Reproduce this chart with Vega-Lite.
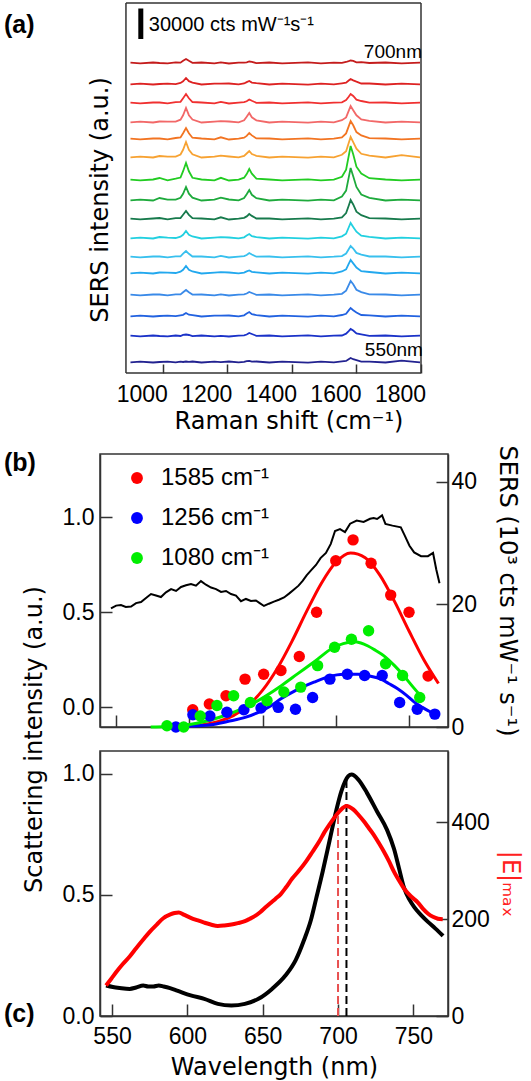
{
"$schema": "https://vega.github.io/schema/vega-lite/v6.json",
"padding": {"left": 3, "top": 2, "right": 8, "bottom": 0},
"background": "white",
"config": {
  "view": {"stroke": "#333333", "strokeWidth": 1.5},
  "axis": {"grid": false, "domainColor": "#333333", "domainWidth": 1.5, "tickColor": "#333333", "tickWidth": 1.5, "tickSize": -12, "labelPadding": 18, "labelFont": "Liberation Sans", "labelFontSize": 23, "labelColor": "#000000", "titleFont": "DejaVu Sans", "titleFontSize": 24, "titleFontWeight": "normal", "titleColor": "#000000", "labelFlush": false, "labelOverlap": false}
},
"resolve": {"scale": {"color": "independent"}, "legend": {"color": "independent"}},
"spacing": 10,
"vconcat": [
{
  "width": 321, "height": 370,
  "view": {"stroke": null},
  "layer": [
    {
      "data": {"values": [
{"nm":"700","x":900,"y":310.3},{"nm":"700","x":930,"y":309.6},{"nm":"700","x":970,"y":310.5},{"nm":"700","x":990,"y":310.0},{"nm":"700","x":1015,"y":309.7},{"nm":"700","x":1040,"y":310.6},{"nm":"700","x":1055,"y":310.4},{"nm":"700","x":1063,"y":312.3},{"nm":"700","x":1072,"y":314.0},{"nm":"700","x":1081,"y":312.2},{"nm":"700","x":1092,"y":310.2},{"nm":"700","x":1120,"y":310.5},{"nm":"700","x":1160,"y":309.7},{"nm":"700","x":1180,"y":310.7},{"nm":"700","x":1205,"y":309.5},{"nm":"700","x":1235,"y":310.4},{"nm":"700","x":1252,"y":310.4},{"nm":"700","x":1260,"y":310.6},{"nm":"700","x":1268,"y":311.5},{"nm":"700","x":1276,"y":311.1},{"nm":"700","x":1290,"y":309.9},{"nm":"700","x":1330,"y":310.5},{"nm":"700","x":1370,"y":309.6},{"nm":"700","x":1410,"y":310.2},{"nm":"700","x":1450,"y":310.6},{"nm":"700","x":1490,"y":309.7},{"nm":"700","x":1530,"y":310.3},{"nm":"700","x":1555,"y":310.1},{"nm":"700","x":1568,"y":311.0},{"nm":"700","x":1576,"y":311.8},{"nm":"700","x":1582,"y":312.5},{"nm":"700","x":1590,"y":312.1},{"nm":"700","x":1600,"y":310.7},{"nm":"700","x":1615,"y":310.9},{"nm":"700","x":1640,"y":310.0},{"nm":"700","x":1690,"y":310.5},{"nm":"700","x":1740,"y":309.6},{"nm":"700","x":1797,"y":310.3},
{"nm":"690","x":900,"y":288.7},{"nm":"690","x":930,"y":289.4},{"nm":"690","x":970,"y":288.5},{"nm":"690","x":990,"y":289.0},{"nm":"690","x":1015,"y":289.3},{"nm":"690","x":1040,"y":288.9},{"nm":"690","x":1055,"y":290.1},{"nm":"690","x":1063,"y":291.7},{"nm":"690","x":1072,"y":295.0},{"nm":"690","x":1081,"y":291.8},{"nm":"690","x":1092,"y":290.3},{"nm":"690","x":1120,"y":288.5},{"nm":"690","x":1160,"y":289.3},{"nm":"690","x":1180,"y":289.3},{"nm":"690","x":1205,"y":289.5},{"nm":"690","x":1235,"y":288.6},{"nm":"690","x":1252,"y":289.5},{"nm":"690","x":1260,"y":290.9},{"nm":"690","x":1268,"y":292.0},{"nm":"690","x":1276,"y":290.4},{"nm":"690","x":1290,"y":289.8},{"nm":"690","x":1330,"y":288.5},{"nm":"690","x":1370,"y":289.4},{"nm":"690","x":1410,"y":288.8},{"nm":"690","x":1450,"y":288.4},{"nm":"690","x":1490,"y":289.3},{"nm":"690","x":1530,"y":288.7},{"nm":"690","x":1555,"y":289.7},{"nm":"690","x":1568,"y":290.3},{"nm":"690","x":1576,"y":292.5},{"nm":"690","x":1582,"y":294.0},{"nm":"690","x":1590,"y":292.6},{"nm":"690","x":1600,"y":291.3},{"nm":"690","x":1615,"y":289.5},{"nm":"690","x":1640,"y":289.5},{"nm":"690","x":1690,"y":288.5},{"nm":"690","x":1740,"y":289.4},{"nm":"690","x":1797,"y":288.7},
{"nm":"680","x":900,"y":270.3},{"nm":"680","x":930,"y":269.6},{"nm":"680","x":970,"y":270.5},{"nm":"680","x":990,"y":270.5},{"nm":"680","x":1015,"y":269.7},{"nm":"680","x":1040,"y":270.9},{"nm":"680","x":1055,"y":271.2},{"nm":"680","x":1063,"y":274.8},{"nm":"680","x":1072,"y":279.0},{"nm":"680","x":1081,"y":274.7},{"nm":"680","x":1092,"y":271.0},{"nm":"680","x":1120,"y":270.5},{"nm":"680","x":1160,"y":269.7},{"nm":"680","x":1180,"y":271.2},{"nm":"680","x":1205,"y":269.5},{"nm":"680","x":1235,"y":270.4},{"nm":"680","x":1252,"y":270.8},{"nm":"680","x":1260,"y":271.7},{"nm":"680","x":1268,"y":273.5},{"nm":"680","x":1276,"y":272.2},{"nm":"680","x":1290,"y":270.2},{"nm":"680","x":1330,"y":270.5},{"nm":"680","x":1370,"y":269.6},{"nm":"680","x":1410,"y":270.2},{"nm":"680","x":1450,"y":270.6},{"nm":"680","x":1490,"y":269.7},{"nm":"680","x":1530,"y":270.3},{"nm":"680","x":1555,"y":270.7},{"nm":"680","x":1568,"y":272.9},{"nm":"680","x":1576,"y":276.3},{"nm":"680","x":1582,"y":279.0},{"nm":"680","x":1590,"y":277.0},{"nm":"680","x":1600,"y":273.3},{"nm":"680","x":1615,"y":272.0},{"nm":"680","x":1640,"y":270.3},{"nm":"680","x":1690,"y":270.5},{"nm":"680","x":1740,"y":269.6},{"nm":"680","x":1797,"y":270.3},
{"nm":"670","x":900,"y":250.7},{"nm":"670","x":930,"y":251.4},{"nm":"670","x":970,"y":250.5},{"nm":"670","x":990,"y":251.5},{"nm":"670","x":1015,"y":251.3},{"nm":"670","x":1040,"y":251.3},{"nm":"670","x":1055,"y":253.3},{"nm":"670","x":1063,"y":257.7},{"nm":"670","x":1072,"y":265.0},{"nm":"670","x":1081,"y":257.8},{"nm":"670","x":1092,"y":253.5},{"nm":"670","x":1120,"y":250.5},{"nm":"670","x":1160,"y":251.3},{"nm":"670","x":1180,"y":251.8},{"nm":"670","x":1205,"y":251.5},{"nm":"670","x":1235,"y":250.6},{"nm":"670","x":1252,"y":252.7},{"nm":"670","x":1260,"y":256.2},{"nm":"670","x":1268,"y":260.0},{"nm":"670","x":1276,"y":255.7},{"nm":"670","x":1290,"y":252.7},{"nm":"670","x":1330,"y":250.5},{"nm":"670","x":1370,"y":251.4},{"nm":"670","x":1410,"y":250.8},{"nm":"670","x":1450,"y":250.4},{"nm":"670","x":1490,"y":251.3},{"nm":"670","x":1530,"y":250.7},{"nm":"670","x":1555,"y":252.8},{"nm":"670","x":1568,"y":255.6},{"nm":"670","x":1576,"y":262.2},{"nm":"670","x":1582,"y":267.0},{"nm":"670","x":1590,"y":262.8},{"nm":"670","x":1600,"y":257.7},{"nm":"670","x":1615,"y":253.5},{"nm":"670","x":1640,"y":252.2},{"nm":"670","x":1690,"y":250.5},{"nm":"670","x":1740,"y":251.4},{"nm":"670","x":1797,"y":250.7},
{"nm":"660","x":900,"y":234.3},{"nm":"660","x":930,"y":233.6},{"nm":"660","x":970,"y":234.5},{"nm":"660","x":990,"y":234.5},{"nm":"660","x":1015,"y":233.7},{"nm":"660","x":1040,"y":235.0},{"nm":"660","x":1055,"y":235.5},{"nm":"660","x":1063,"y":239.8},{"nm":"660","x":1072,"y":245.0},{"nm":"660","x":1081,"y":239.7},{"nm":"660","x":1092,"y":235.3},{"nm":"660","x":1120,"y":234.5},{"nm":"660","x":1160,"y":233.7},{"nm":"660","x":1180,"y":235.7},{"nm":"660","x":1205,"y":233.5},{"nm":"660","x":1235,"y":234.4},{"nm":"660","x":1252,"y":235.3},{"nm":"660","x":1260,"y":237.1},{"nm":"660","x":1268,"y":240.0},{"nm":"660","x":1276,"y":237.6},{"nm":"660","x":1290,"y":234.6},{"nm":"660","x":1330,"y":234.5},{"nm":"660","x":1370,"y":233.6},{"nm":"660","x":1410,"y":234.2},{"nm":"660","x":1450,"y":234.6},{"nm":"660","x":1490,"y":233.7},{"nm":"660","x":1530,"y":234.3},{"nm":"660","x":1555,"y":235.6},{"nm":"660","x":1568,"y":239.6},{"nm":"660","x":1576,"y":246.6},{"nm":"660","x":1582,"y":252.0},{"nm":"660","x":1590,"y":247.7},{"nm":"660","x":1600,"y":240.9},{"nm":"660","x":1615,"y":237.6},{"nm":"660","x":1640,"y":234.9},{"nm":"660","x":1690,"y":234.5},{"nm":"660","x":1740,"y":233.6},{"nm":"660","x":1797,"y":234.3},
{"nm":"650","x":900,"y":215.7},{"nm":"650","x":930,"y":216.4},{"nm":"650","x":970,"y":215.5},{"nm":"650","x":990,"y":217.0},{"nm":"650","x":1015,"y":216.3},{"nm":"650","x":1040,"y":216.4},{"nm":"650","x":1055,"y":218.5},{"nm":"650","x":1063,"y":223.2},{"nm":"650","x":1072,"y":231.0},{"nm":"650","x":1081,"y":223.3},{"nm":"650","x":1092,"y":218.7},{"nm":"650","x":1120,"y":215.5},{"nm":"650","x":1160,"y":216.3},{"nm":"650","x":1180,"y":217.3},{"nm":"650","x":1205,"y":216.5},{"nm":"650","x":1235,"y":215.6},{"nm":"650","x":1252,"y":217.1},{"nm":"650","x":1260,"y":219.5},{"nm":"650","x":1268,"y":222.0},{"nm":"650","x":1276,"y":219.0},{"nm":"650","x":1290,"y":217.2},{"nm":"650","x":1330,"y":215.5},{"nm":"650","x":1370,"y":216.4},{"nm":"650","x":1410,"y":215.8},{"nm":"650","x":1450,"y":215.4},{"nm":"650","x":1490,"y":216.3},{"nm":"650","x":1530,"y":215.7},{"nm":"650","x":1555,"y":218.2},{"nm":"650","x":1568,"y":221.8},{"nm":"650","x":1576,"y":230.0},{"nm":"650","x":1582,"y":236.0},{"nm":"650","x":1590,"y":230.8},{"nm":"650","x":1600,"y":224.3},{"nm":"650","x":1615,"y":219.2},{"nm":"650","x":1640,"y":217.4},{"nm":"650","x":1690,"y":215.5},{"nm":"650","x":1740,"y":217.9},{"nm":"650","x":1797,"y":215.7},
{"nm":"640","x":900,"y":193.3},{"nm":"640","x":930,"y":192.6},{"nm":"640","x":970,"y":193.5},{"nm":"640","x":990,"y":195.0},{"nm":"640","x":1015,"y":192.7},{"nm":"640","x":1040,"y":194.3},{"nm":"640","x":1055,"y":195.4},{"nm":"640","x":1063,"y":201.8},{"nm":"640","x":1072,"y":210.0},{"nm":"640","x":1081,"y":201.7},{"nm":"640","x":1092,"y":195.2},{"nm":"640","x":1120,"y":193.5},{"nm":"640","x":1160,"y":192.7},{"nm":"640","x":1180,"y":195.2},{"nm":"640","x":1205,"y":192.5},{"nm":"640","x":1235,"y":193.4},{"nm":"640","x":1252,"y":195.3},{"nm":"640","x":1260,"y":198.9},{"nm":"640","x":1268,"y":204.0},{"nm":"640","x":1276,"y":199.4},{"nm":"640","x":1290,"y":194.4},{"nm":"640","x":1330,"y":193.5},{"nm":"640","x":1370,"y":192.6},{"nm":"640","x":1410,"y":193.2},{"nm":"640","x":1450,"y":193.6},{"nm":"640","x":1490,"y":192.7},{"nm":"640","x":1530,"y":193.3},{"nm":"640","x":1555,"y":196.2},{"nm":"640","x":1568,"y":203.4},{"nm":"640","x":1576,"y":216.8},{"nm":"640","x":1582,"y":227.0},{"nm":"640","x":1590,"y":218.7},{"nm":"640","x":1600,"y":206.3},{"nm":"640","x":1615,"y":199.5},{"nm":"640","x":1640,"y":194.8},{"nm":"640","x":1690,"y":193.5},{"nm":"640","x":1740,"y":192.6},{"nm":"640","x":1797,"y":193.3},
{"nm":"630","x":900,"y":172.7},{"nm":"630","x":930,"y":173.4},{"nm":"630","x":970,"y":172.5},{"nm":"630","x":990,"y":175.0},{"nm":"630","x":1015,"y":173.3},{"nm":"630","x":1040,"y":173.3},{"nm":"630","x":1055,"y":175.2},{"nm":"630","x":1063,"y":179.2},{"nm":"630","x":1072,"y":186.0},{"nm":"630","x":1081,"y":179.3},{"nm":"630","x":1092,"y":175.4},{"nm":"630","x":1120,"y":172.5},{"nm":"630","x":1160,"y":173.3},{"nm":"630","x":1180,"y":175.3},{"nm":"630","x":1205,"y":173.5},{"nm":"630","x":1235,"y":172.6},{"nm":"630","x":1252,"y":174.9},{"nm":"630","x":1260,"y":178.7},{"nm":"630","x":1268,"y":183.0},{"nm":"630","x":1276,"y":178.2},{"nm":"630","x":1290,"y":174.8},{"nm":"630","x":1330,"y":172.5},{"nm":"630","x":1370,"y":173.4},{"nm":"630","x":1410,"y":172.8},{"nm":"630","x":1450,"y":172.4},{"nm":"630","x":1490,"y":173.3},{"nm":"630","x":1530,"y":172.7},{"nm":"630","x":1555,"y":176.4},{"nm":"630","x":1568,"y":182.4},{"nm":"630","x":1576,"y":195.4},{"nm":"630","x":1582,"y":205.0},{"nm":"630","x":1590,"y":196.8},{"nm":"630","x":1600,"y":186.1},{"nm":"630","x":1615,"y":178.4},{"nm":"630","x":1640,"y":175.1},{"nm":"630","x":1690,"y":172.5},{"nm":"630","x":1740,"y":173.4},{"nm":"630","x":1797,"y":172.7},
{"nm":"620","x":900,"y":154.3},{"nm":"620","x":930,"y":153.6},{"nm":"620","x":970,"y":154.5},{"nm":"620","x":990,"y":155.0},{"nm":"620","x":1015,"y":153.7},{"nm":"620","x":1040,"y":154.8},{"nm":"620","x":1055,"y":155.0},{"nm":"620","x":1063,"y":158.3},{"nm":"620","x":1072,"y":162.0},{"nm":"620","x":1081,"y":158.2},{"nm":"620","x":1092,"y":154.8},{"nm":"620","x":1120,"y":154.5},{"nm":"620","x":1160,"y":153.7},{"nm":"620","x":1180,"y":155.7},{"nm":"620","x":1205,"y":153.5},{"nm":"620","x":1235,"y":154.4},{"nm":"620","x":1252,"y":155.1},{"nm":"620","x":1260,"y":156.6},{"nm":"620","x":1268,"y":159.0},{"nm":"620","x":1276,"y":157.1},{"nm":"620","x":1290,"y":154.5},{"nm":"620","x":1330,"y":154.5},{"nm":"620","x":1370,"y":153.6},{"nm":"620","x":1410,"y":154.2},{"nm":"620","x":1450,"y":154.6},{"nm":"620","x":1490,"y":153.7},{"nm":"620","x":1530,"y":154.3},{"nm":"620","x":1555,"y":155.7},{"nm":"620","x":1568,"y":159.9},{"nm":"620","x":1576,"y":167.3},{"nm":"620","x":1582,"y":173.0},{"nm":"620","x":1590,"y":168.5},{"nm":"620","x":1600,"y":161.3},{"nm":"620","x":1615,"y":157.8},{"nm":"620","x":1640,"y":154.9},{"nm":"620","x":1690,"y":154.5},{"nm":"620","x":1740,"y":153.6},{"nm":"620","x":1797,"y":154.3},
{"nm":"610","x":900,"y":134.7},{"nm":"610","x":930,"y":135.4},{"nm":"610","x":970,"y":134.5},{"nm":"610","x":990,"y":136.0},{"nm":"610","x":1015,"y":135.3},{"nm":"610","x":1040,"y":135.0},{"nm":"610","x":1055,"y":136.3},{"nm":"610","x":1063,"y":138.2},{"nm":"610","x":1072,"y":142.0},{"nm":"610","x":1081,"y":138.3},{"nm":"610","x":1092,"y":136.5},{"nm":"610","x":1120,"y":134.5},{"nm":"610","x":1160,"y":135.3},{"nm":"610","x":1180,"y":135.8},{"nm":"610","x":1205,"y":135.5},{"nm":"610","x":1235,"y":134.6},{"nm":"610","x":1252,"y":135.7},{"nm":"610","x":1260,"y":137.4},{"nm":"610","x":1268,"y":139.0},{"nm":"610","x":1276,"y":136.9},{"nm":"610","x":1290,"y":135.9},{"nm":"610","x":1330,"y":134.5},{"nm":"610","x":1370,"y":135.4},{"nm":"610","x":1410,"y":134.8},{"nm":"610","x":1450,"y":134.4},{"nm":"610","x":1490,"y":135.3},{"nm":"610","x":1530,"y":134.7},{"nm":"610","x":1555,"y":136.7},{"nm":"610","x":1568,"y":139.3},{"nm":"610","x":1576,"y":145.5},{"nm":"610","x":1582,"y":150.0},{"nm":"610","x":1590,"y":146.1},{"nm":"610","x":1600,"y":141.3},{"nm":"610","x":1615,"y":137.3},{"nm":"610","x":1640,"y":136.1},{"nm":"610","x":1690,"y":134.5},{"nm":"610","x":1740,"y":135.4},{"nm":"610","x":1797,"y":134.7},
{"nm":"600","x":900,"y":116.3},{"nm":"600","x":930,"y":115.6},{"nm":"600","x":970,"y":116.5},{"nm":"600","x":990,"y":116.5},{"nm":"600","x":1015,"y":115.7},{"nm":"600","x":1040,"y":116.7},{"nm":"600","x":1055,"y":116.7},{"nm":"600","x":1063,"y":119.3},{"nm":"600","x":1072,"y":122.0},{"nm":"600","x":1081,"y":119.2},{"nm":"600","x":1092,"y":116.5},{"nm":"600","x":1120,"y":116.5},{"nm":"600","x":1160,"y":115.7},{"nm":"600","x":1180,"y":117.2},{"nm":"600","x":1205,"y":115.5},{"nm":"600","x":1235,"y":116.4},{"nm":"600","x":1252,"y":116.9},{"nm":"600","x":1260,"y":118.0},{"nm":"600","x":1268,"y":120.0},{"nm":"600","x":1276,"y":118.5},{"nm":"600","x":1290,"y":116.3},{"nm":"600","x":1330,"y":116.5},{"nm":"600","x":1370,"y":115.6},{"nm":"600","x":1410,"y":116.2},{"nm":"600","x":1450,"y":116.6},{"nm":"600","x":1490,"y":115.7},{"nm":"600","x":1530,"y":116.3},{"nm":"600","x":1555,"y":116.9},{"nm":"600","x":1568,"y":119.5},{"nm":"600","x":1576,"y":123.7},{"nm":"600","x":1582,"y":127.0},{"nm":"600","x":1590,"y":124.5},{"nm":"600","x":1600,"y":120.1},{"nm":"600","x":1615,"y":118.4},{"nm":"600","x":1640,"y":116.5},{"nm":"600","x":1690,"y":116.5},{"nm":"600","x":1740,"y":115.6},{"nm":"600","x":1797,"y":116.3},
{"nm":"590","x":900,"y":99.7},{"nm":"590","x":930,"y":100.4},{"nm":"590","x":970,"y":99.5},{"nm":"590","x":990,"y":100.5},{"nm":"590","x":1015,"y":100.3},{"nm":"590","x":1040,"y":100.0},{"nm":"590","x":1055,"y":101.3},{"nm":"590","x":1063,"y":103.2},{"nm":"590","x":1072,"y":107.0},{"nm":"590","x":1081,"y":103.3},{"nm":"590","x":1092,"y":101.5},{"nm":"590","x":1120,"y":99.5},{"nm":"590","x":1160,"y":100.3},{"nm":"590","x":1180,"y":100.8},{"nm":"590","x":1205,"y":100.5},{"nm":"590","x":1235,"y":99.6},{"nm":"590","x":1252,"y":100.4},{"nm":"590","x":1260,"y":101.6},{"nm":"590","x":1268,"y":102.5},{"nm":"590","x":1276,"y":101.1},{"nm":"590","x":1290,"y":100.7},{"nm":"590","x":1330,"y":99.5},{"nm":"590","x":1370,"y":100.4},{"nm":"590","x":1410,"y":99.8},{"nm":"590","x":1450,"y":99.4},{"nm":"590","x":1490,"y":100.3},{"nm":"590","x":1530,"y":99.7},{"nm":"590","x":1555,"y":101.5},{"nm":"590","x":1568,"y":103.7},{"nm":"590","x":1576,"y":109.1},{"nm":"590","x":1582,"y":113.0},{"nm":"590","x":1590,"y":109.6},{"nm":"590","x":1600,"y":105.5},{"nm":"590","x":1615,"y":101.9},{"nm":"590","x":1640,"y":101.0},{"nm":"590","x":1690,"y":99.5},{"nm":"590","x":1740,"y":100.4},{"nm":"590","x":1797,"y":99.7},
{"nm":"580","x":900,"y":78.3},{"nm":"580","x":930,"y":77.6},{"nm":"580","x":970,"y":78.5},{"nm":"580","x":990,"y":78.5},{"nm":"580","x":1015,"y":77.7},{"nm":"580","x":1040,"y":78.7},{"nm":"580","x":1055,"y":78.6},{"nm":"580","x":1063,"y":80.8},{"nm":"580","x":1072,"y":83.0},{"nm":"580","x":1081,"y":80.7},{"nm":"580","x":1092,"y":78.4},{"nm":"580","x":1120,"y":78.5},{"nm":"580","x":1160,"y":77.7},{"nm":"580","x":1180,"y":78.7},{"nm":"580","x":1205,"y":77.5},{"nm":"580","x":1235,"y":78.4},{"nm":"580","x":1252,"y":78.7},{"nm":"580","x":1260,"y":79.5},{"nm":"580","x":1268,"y":81.0},{"nm":"580","x":1276,"y":80.0},{"nm":"580","x":1290,"y":78.2},{"nm":"580","x":1330,"y":78.5},{"nm":"580","x":1370,"y":77.6},{"nm":"580","x":1410,"y":78.2},{"nm":"580","x":1450,"y":78.6},{"nm":"580","x":1490,"y":77.7},{"nm":"580","x":1530,"y":78.3},{"nm":"580","x":1555,"y":79.2},{"nm":"580","x":1568,"y":82.4},{"nm":"580","x":1576,"y":87.8},{"nm":"580","x":1582,"y":92.0},{"nm":"580","x":1590,"y":88.7},{"nm":"580","x":1600,"y":83.3},{"nm":"580","x":1615,"y":80.9},{"nm":"580","x":1640,"y":78.6},{"nm":"580","x":1690,"y":78.5},{"nm":"580","x":1740,"y":77.6},{"nm":"580","x":1797,"y":78.3},
{"nm":"570","x":900,"y":56.7},{"nm":"570","x":930,"y":57.4},{"nm":"570","x":970,"y":56.5},{"nm":"570","x":990,"y":57.0},{"nm":"570","x":1015,"y":57.3},{"nm":"570","x":1040,"y":56.8},{"nm":"570","x":1055,"y":57.7},{"nm":"570","x":1063,"y":58.2},{"nm":"570","x":1072,"y":60.0},{"nm":"570","x":1081,"y":58.3},{"nm":"570","x":1092,"y":57.9},{"nm":"570","x":1120,"y":56.5},{"nm":"570","x":1160,"y":57.3},{"nm":"570","x":1180,"y":57.3},{"nm":"570","x":1205,"y":57.5},{"nm":"570","x":1235,"y":56.6},{"nm":"570","x":1252,"y":57.7},{"nm":"570","x":1260,"y":59.4},{"nm":"570","x":1268,"y":61.0},{"nm":"570","x":1276,"y":58.9},{"nm":"570","x":1290,"y":57.9},{"nm":"570","x":1330,"y":56.5},{"nm":"570","x":1370,"y":57.4},{"nm":"570","x":1410,"y":56.8},{"nm":"570","x":1450,"y":56.4},{"nm":"570","x":1490,"y":57.3},{"nm":"570","x":1530,"y":56.7},{"nm":"570","x":1555,"y":58.0},{"nm":"570","x":1568,"y":59.2},{"nm":"570","x":1576,"y":62.6},{"nm":"570","x":1582,"y":65.0},{"nm":"570","x":1590,"y":62.8},{"nm":"570","x":1600,"y":60.5},{"nm":"570","x":1615,"y":58.0},{"nm":"570","x":1640,"y":57.7},{"nm":"570","x":1690,"y":56.5},{"nm":"570","x":1740,"y":57.4},{"nm":"570","x":1797,"y":56.7},
{"nm":"560","x":900,"y":37.3},{"nm":"560","x":930,"y":36.6},{"nm":"560","x":970,"y":37.5},{"nm":"560","x":990,"y":37.0},{"nm":"560","x":1015,"y":36.7},{"nm":"560","x":1040,"y":37.5},{"nm":"560","x":1055,"y":37.0},{"nm":"560","x":1063,"y":38.1},{"nm":"560","x":1072,"y":38.5},{"nm":"560","x":1081,"y":38.0},{"nm":"560","x":1092,"y":36.8},{"nm":"560","x":1120,"y":37.5},{"nm":"560","x":1160,"y":36.7},{"nm":"560","x":1180,"y":37.2},{"nm":"560","x":1205,"y":36.5},{"nm":"560","x":1235,"y":37.4},{"nm":"560","x":1252,"y":37.7},{"nm":"560","x":1260,"y":38.5},{"nm":"560","x":1268,"y":40.0},{"nm":"560","x":1276,"y":39.0},{"nm":"560","x":1290,"y":37.2},{"nm":"560","x":1330,"y":37.5},{"nm":"560","x":1370,"y":36.6},{"nm":"560","x":1410,"y":37.2},{"nm":"560","x":1450,"y":37.6},{"nm":"560","x":1490,"y":36.7},{"nm":"560","x":1530,"y":37.3},{"nm":"560","x":1555,"y":37.5},{"nm":"560","x":1568,"y":39.3},{"nm":"560","x":1576,"y":41.9},{"nm":"560","x":1582,"y":44.0},{"nm":"560","x":1590,"y":42.5},{"nm":"560","x":1600,"y":39.5},{"nm":"560","x":1615,"y":38.7},{"nm":"560","x":1640,"y":37.2},{"nm":"560","x":1690,"y":37.5},{"nm":"560","x":1740,"y":36.6},{"nm":"560","x":1797,"y":37.3},
{"nm":"550","x":900,"y":10.7},{"nm":"550","x":930,"y":11.4},{"nm":"550","x":970,"y":10.5},{"nm":"550","x":990,"y":11.0},{"nm":"550","x":1015,"y":11.3},{"nm":"550","x":1040,"y":10.6},{"nm":"550","x":1055,"y":11.3},{"nm":"550","x":1063,"y":11.0},{"nm":"550","x":1072,"y":11.5},{"nm":"550","x":1081,"y":11.1},{"nm":"550","x":1092,"y":11.5},{"nm":"550","x":1120,"y":10.5},{"nm":"550","x":1160,"y":11.3},{"nm":"550","x":1180,"y":10.8},{"nm":"550","x":1205,"y":11.5},{"nm":"550","x":1235,"y":10.6},{"nm":"550","x":1252,"y":11.1},{"nm":"550","x":1260,"y":11.8},{"nm":"550","x":1268,"y":12.0},{"nm":"550","x":1276,"y":11.3},{"nm":"550","x":1290,"y":11.5},{"nm":"550","x":1330,"y":10.5},{"nm":"550","x":1370,"y":11.4},{"nm":"550","x":1410,"y":10.8},{"nm":"550","x":1450,"y":10.4},{"nm":"550","x":1490,"y":11.3},{"nm":"550","x":1530,"y":10.7},{"nm":"550","x":1555,"y":11.6},{"nm":"550","x":1568,"y":12.0},{"nm":"550","x":1576,"y":13.8},{"nm":"550","x":1582,"y":15.0},{"nm":"550","x":1590,"y":13.8},{"nm":"550","x":1600,"y":12.9},{"nm":"550","x":1615,"y":11.3},{"nm":"550","x":1640,"y":11.4},{"nm":"550","x":1690,"y":10.5},{"nm":"550","x":1740,"y":12.4},{"nm":"550","x":1797,"y":10.7}
      ]},
      "mark": {"type": "line", "strokeWidth": 1.8},
      "encoding": {
        "x": {"field": "x", "type": "quantitative", "scale": {"domain": [805.6, 1800], "nice": false, "zero": false},
              "axis": {"values": [1000, 1200, 1400, 1600, 1800], "title": null, "domain": false, "tickSize": -9, "labelPadding": 19, "labelOffset": -21, "format": "d"}},
        "y": {"field": "y", "type": "quantitative", "scale": {"domain": [0, 370], "nice": false, "zero": false}, "axis": null},
        "color": {"field": "nm", "type": "nominal", "legend": null,
                  "scale": {"domain": ["700","690","680","670","660","650","640","630","620","610","600","590","580","570","560","550"],
                            "range": ["#c41c1c","#dd2222","#f03030","#f26868","#f27422","#f7a232","#22cc22","#1eaa3c","#177a4c","#22d0e0","#38c0ee","#22a8ee","#3a8ae8","#2262e0","#1a32c8","#222290"]}}
      }
    },
    {
      "data": {"values": [{"xa": 886, "xb": 886, "ya": 0, "yb": 370}, {"xa": 1800, "xb": 1800, "ya": 0, "yb": 370}, {"xa": 886, "xb": 1800, "ya": 0, "yb": 0}, {"xa": 886, "xb": 1800, "ya": 370, "yb": 370}]},
      "mark": {"type": "rule", "color": "#333333", "strokeWidth": 1.5},
      "encoding": {"x": {"field": "xa", "type": "quantitative"}, "x2": {"field": "xb"}, "y": {"field": "ya", "type": "quantitative"}, "y2": {"field": "yb"}}
    },
    {
      "data": {"values": [{"xa": 932, "ya": 334, "yb": 364.5}]},
      "mark": {"type": "rule", "color": "#000000", "strokeWidth": 5},
      "encoding": {"x": {"field": "xa", "type": "quantitative"}, "y": {"field": "ya", "type": "quantitative"}, "y2": {"field": "yb"}}
    },
    {"data": {"values": [{}]}, "mark": {"type": "text", "text": "(a)", "font": "Liberation Sans", "fontWeight": "bold", "fontSize": 25, "align": "left", "baseline": "middle", "color": "#000000"}, "encoding": {"x": {"datum": 508.2}, "y": {"datum": 348}}},
    {"data": {"values": [{}]}, "mark": {"type": "text", "text": "30000 cts mW⁻¹s⁻¹", "font": "Liberation Sans", "fontSize": 20, "align": "left", "baseline": "middle", "color": "#000000"}, "encoding": {"x": {"datum": 957}, "y": {"datum": 348}}},
    {"data": {"values": [{}]}, "mark": {"type": "text", "text": "700nm", "font": "Liberation Sans", "fontSize": 19, "align": "right", "baseline": "middle", "color": "#000000"}, "encoding": {"x": {"datum": 1803}, "y": {"datum": 321.5}}},
    {"data": {"values": [{}]}, "mark": {"type": "text", "text": "550nm", "font": "Liberation Sans", "fontSize": 19, "align": "right", "baseline": "middle", "color": "#000000"}, "encoding": {"x": {"datum": 1806}, "y": {"datum": 23.5}}},
    {"data": {"values": [{}]}, "mark": {"type": "text", "text": "SERS intensity (a.u.)", "font": "DejaVu Sans", "fontSize": 24, "angle": 270, "align": "center", "baseline": "middle", "color": "#000000"}, "encoding": {"x": {"datum": 808.7}, "y": {"datum": 173}}},
    {"data": {"values": [{}]}, "mark": {"type": "text", "text": "Raman shift (cm⁻¹)", "font": "DejaVu Sans", "fontSize": 24, "align": "center", "baseline": "middle", "color": "#000000"}, "encoding": {"x": {"datum": 1391}, "y": {"datum": -49}}}
  ]
},
{
  "spacing": 24,
  "bounds": "flush",
  "vconcat": [
    {
      "width": 348, "height": 273,
      "resolve": {"scale": {"y": "independent"}},
      "layer": [
        {
          "layer": [
            {
              "data": {"values": [
{"wl":546.5,"scat":0.52},{"wl":550.0,"scat":0.535},{"wl":553.3,"scat":0.538},{"wl":556.6,"scat":0.528},{"wl":560.2,"scat":0.53},{"wl":563.6,"scat":0.548},{"wl":567.0,"scat":0.554},{"wl":570.4,"scat":0.575},{"wl":573.8,"scat":0.596},{"wl":577.2,"scat":0.588},{"wl":580.6,"scat":0.58},{"wl":584.0,"scat":0.605},{"wl":587.5,"scat":0.622},{"wl":590.9,"scat":0.612},{"wl":594.3,"scat":0.633},{"wl":597.7,"scat":0.642},{"wl":601.1,"scat":0.649},{"wl":604.5,"scat":0.64},{"wl":607.9,"scat":0.664},{"wl":611.3,"scat":0.645},{"wl":614.8,"scat":0.63},{"wl":618.2,"scat":0.622},{"wl":621.6,"scat":0.607},{"wl":625.0,"scat":0.612},{"wl":628.4,"scat":0.596},{"wl":631.8,"scat":0.588},{"wl":635.2,"scat":0.558},{"wl":638.6,"scat":0.57},{"wl":642.0,"scat":0.559},{"wl":645.4,"scat":0.562},{"wl":648.0,"scat":0.548},{"wl":650.9,"scat":0.533},{"wl":654.3,"scat":0.545},{"wl":657.7,"scat":0.556},{"wl":661.1,"scat":0.566},{"wl":664.6,"scat":0.578},{"wl":668.0,"scat":0.598},{"wl":671.4,"scat":0.62},{"wl":674.5,"scat":0.64},{"wl":677.3,"scat":0.665},{"wl":680.0,"scat":0.694},{"wl":683.0,"scat":0.72},{"wl":686.4,"scat":0.749},{"wl":689.5,"scat":0.785},{"wl":693.2,"scat":0.812},{"wl":696.5,"scat":0.86},{"wl":699.4,"scat":0.928},{"wl":702.8,"scat":0.938},{"wl":706.2,"scat":0.922},{"wl":709.7,"scat":0.966},{"wl":714.2,"scat":0.983},{"wl":718.9,"scat":0.975},{"wl":723.3,"scat":0.992},{"wl":725.8,"scat":0.996},{"wl":728.1,"scat":0.991},{"wl":731.5,"scat":1.01},{"wl":733.8,"scat":0.965},{"wl":738.6,"scat":0.956},{"wl":744.3,"scat":0.947},{"wl":746.6,"scat":0.91},{"wl":750.2,"scat":0.85},{"wl":753.4,"scat":0.815},{"wl":758.1,"scat":0.795},{"wl":762.8,"scat":0.795},{"wl":766.3,"scat":0.812},{"wl":768.5,"scat":0.725},{"wl":770.7,"scat":0.653}
              ]},
              "mark": {"type": "line", "color": "#000000", "strokeWidth": 2},
              "encoding": {
                "x": {"field": "wl", "type": "quantitative", "scale": {"domain": [539, 776.5], "nice": false, "zero": false},
                      "axis": {"values": [550, 600, 650, 700, 750], "labels": false, "title": null}},
                "y": {"field": "scat", "type": "quantitative", "scale": {"domain": [-0.104, 1.333], "nice": false, "zero": false},
                      "axis": {"orient": "left", "values": [0, 0.5, 1], "format": ".1f", "title": null}}
              }
            },
            {"data": {"values": [{}]}, "mark": {"type": "text", "text": "(b)", "font": "Liberation Sans", "fontWeight": "bold", "fontSize": 25, "align": "left", "baseline": "middle", "color": "#000000"}, "encoding": {"x": {"datum": 473.5}, "y": {"datum": 1.286}}},
            {"data": {"values": [{}]}, "mark": {"type": "text", "text": "Scattering intensity (a.u.)", "font": "DejaVu Sans", "fontSize": 24, "angle": 270, "align": "center", "baseline": "middle", "color": "#000000"}, "encoding": {"x": {"datum": 494.6}, "y": {"datum": -0.17}}}
          ]
        },
        {
          "layer": [
            {
              "data": {"values": [
{"mode":"1585 cm⁻¹","wl":585,"sers":0.03},{"mode":"1585 cm⁻¹","wl":590,"sers":0.07},{"mode":"1585 cm⁻¹","wl":600,"sers":0.17},{"mode":"1585 cm⁻¹","wl":610,"sers":0.42},{"mode":"1585 cm⁻¹","wl":620,"sers":0.92},{"mode":"1585 cm⁻¹","wl":630,"sers":1.86},{"mode":"1585 cm⁻¹","wl":640,"sers":3.48},{"mode":"1585 cm⁻¹","wl":650,"sers":6.0},{"mode":"1585 cm⁻¹","wl":660,"sers":9.54},{"mode":"1585 cm⁻¹","wl":670,"sers":13.96},{"mode":"1585 cm⁻¹","wl":680,"sers":18.84},{"mode":"1585 cm⁻¹","wl":690,"sers":23.4},{"mode":"1585 cm⁻¹","wl":700,"sers":26.85},{"mode":"1585 cm⁻¹","wl":710,"sers":28.37},{"mode":"1585 cm⁻¹","wl":720,"sers":27.6},{"mode":"1585 cm⁻¹","wl":730,"sers":24.77},{"mode":"1585 cm⁻¹","wl":740,"sers":20.48},{"mode":"1585 cm⁻¹","wl":750,"sers":15.6},{"mode":"1585 cm⁻¹","wl":760,"sers":10.96},{"mode":"1585 cm⁻¹","wl":770,"sers":7.09},
{"mode":"1256 cm⁻¹","wl":590.9,"sers":0.0},{"mode":"1256 cm⁻¹","wl":602,"sers":0.15},{"mode":"1256 cm⁻¹","wl":614.8,"sers":0.35},{"mode":"1256 cm⁻¹","wl":626,"sers":0.9},{"mode":"1256 cm⁻¹","wl":638.6,"sers":1.6},{"mode":"1256 cm⁻¹","wl":649,"sers":2.6},{"mode":"1256 cm⁻¹","wl":656,"sers":3.5},{"mode":"1256 cm⁻¹","wl":662.5,"sers":4.6},{"mode":"1256 cm⁻¹","wl":672,"sers":5.9},{"mode":"1256 cm⁻¹","wl":685,"sers":7.3},{"mode":"1256 cm⁻¹","wl":695,"sers":8.2},{"mode":"1256 cm⁻¹","wl":705.5,"sers":8.6},{"mode":"1256 cm⁻¹","wl":715.1,"sers":8.6},{"mode":"1256 cm⁻¹","wl":723,"sers":8.3},{"mode":"1256 cm⁻¹","wl":730.8,"sers":7.8},{"mode":"1256 cm⁻¹","wl":736,"sers":7.1},{"mode":"1256 cm⁻¹","wl":742.4,"sers":6.2},{"mode":"1256 cm⁻¹","wl":748,"sers":5.2},{"mode":"1256 cm⁻¹","wl":753.3,"sers":4.1},{"mode":"1256 cm⁻¹","wl":759,"sers":3.2},{"mode":"1256 cm⁻¹","wl":764.9,"sers":2.4},
{"mode":"1080 cm⁻¹","wl":573.6,"sers":0.0},{"mode":"1080 cm⁻¹","wl":585,"sers":0.1},{"mode":"1080 cm⁻¹","wl":594.3,"sers":0.25},{"mode":"1080 cm⁻¹","wl":605,"sers":0.6},{"mode":"1080 cm⁻¹","wl":616.8,"sers":1.3},{"mode":"1080 cm⁻¹","wl":628,"sers":2.2},{"mode":"1080 cm⁻¹","wl":640,"sers":3.4},{"mode":"1080 cm⁻¹","wl":651,"sers":4.9},{"mode":"1080 cm⁻¹","wl":662.5,"sers":6.7},{"mode":"1080 cm⁻¹","wl":674,"sers":8.7},{"mode":"1080 cm⁻¹","wl":685,"sers":10.6},{"mode":"1080 cm⁻¹","wl":698.7,"sers":13.0},{"mode":"1080 cm⁻¹","wl":705,"sers":13.6},{"mode":"1080 cm⁻¹","wl":712.3,"sers":13.9},{"mode":"1080 cm⁻¹","wl":717,"sers":13.7},{"mode":"1080 cm⁻¹","wl":721.9,"sers":13.2},{"mode":"1080 cm⁻¹","wl":727,"sers":12.5},{"mode":"1080 cm⁻¹","wl":732.8,"sers":11.6},{"mode":"1080 cm⁻¹","wl":740,"sers":10.0},{"mode":"1080 cm⁻¹","wl":746.5,"sers":8.3},{"mode":"1080 cm⁻¹","wl":752,"sers":6.7},{"mode":"1080 cm⁻¹","wl":758.1,"sers":5.0}
              ]},
              "mark": {"type": "line", "strokeWidth": 3, "interpolate": "monotone"},
              "encoding": {
                "x": {"field": "wl", "type": "quantitative"},
                "y": {"field": "sers", "type": "quantitative", "scale": {"domain": [0, 44.5], "nice": false, "zero": false},
                      "axis": {"orient": "right", "values": [0, 20, 40], "title": "SERS (10³ cts mW⁻¹ s⁻¹)", "labelPadding": 15, "titlePadding": 18}},
                "stroke": {"field": "mode", "type": "nominal", "legend": null,
                          "scale": {"domain": ["1585 cm⁻¹", "1256 cm⁻¹", "1080 cm⁻¹"], "range": ["#ff0000", "#0000ff", "#00ee00"]}}
              }
            },
            {
              "data": {"values": [
{"mode":"1585 cm⁻¹","wl":602.3,"sers":2.8},{"mode":"1585 cm⁻¹","wl":613.6,"sers":3.75},{"mode":"1585 cm⁻¹","wl":625.0,"sers":5.1},{"mode":"1585 cm⁻¹","wl":638.0,"sers":7.8},{"mode":"1585 cm⁻¹","wl":650.7,"sers":8.6},{"mode":"1585 cm⁻¹","wl":662.5,"sers":9.2},{"mode":"1585 cm⁻¹","wl":675.0,"sers":11.5},{"mode":"1585 cm⁻¹","wl":686.8,"sers":18.7},{"mode":"1585 cm⁻¹","wl":699.9,"sers":27.1},{"mode":"1585 cm⁻¹","wl":711.7,"sers":30.5},{"mode":"1585 cm⁻¹","wl":724.0,"sers":26.7},{"mode":"1585 cm⁻¹","wl":737.4,"sers":21.5},{"mode":"1585 cm⁻¹","wl":749.9,"sers":18.7},{"mode":"1585 cm⁻¹","wl":762.9,"sers":8.3},
{"mode":"1256 cm⁻¹","wl":590.8,"sers":0.0},{"mode":"1256 cm⁻¹","wl":602.4,"sers":2.0},{"mode":"1256 cm⁻¹","wl":614.0,"sers":1.8},{"mode":"1256 cm⁻¹","wl":625.6,"sers":2.4},{"mode":"1256 cm⁻¹","wl":637.2,"sers":2.8},{"mode":"1256 cm⁻¹","wl":648.9,"sers":3.1},{"mode":"1256 cm⁻¹","wl":660.6,"sers":3.2},{"mode":"1256 cm⁻¹","wl":672.4,"sers":2.9},{"mode":"1256 cm⁻¹","wl":684.1,"sers":4.8},{"mode":"1256 cm⁻¹","wl":695.9,"sers":7.8},{"mode":"1256 cm⁻¹","wl":707.8,"sers":8.6},{"mode":"1256 cm⁻¹","wl":719.6,"sers":8.4},{"mode":"1256 cm⁻¹","wl":731.6,"sers":8.4},{"mode":"1256 cm⁻¹","wl":743.5,"sers":4.0},{"mode":"1256 cm⁻¹","wl":755.5,"sers":2.9},{"mode":"1256 cm⁻¹","wl":767.5,"sers":2.1},
{"mode":"1080 cm⁻¹","wl":584.7,"sers":0.2},{"mode":"1080 cm⁻¹","wl":596.1,"sers":0.0},{"mode":"1080 cm⁻¹","wl":607.4,"sers":1.8},{"mode":"1080 cm⁻¹","wl":618.8,"sers":3.5},{"mode":"1080 cm⁻¹","wl":630.2,"sers":5.1},{"mode":"1080 cm⁻¹","wl":641.6,"sers":4.0},{"mode":"1080 cm⁻¹","wl":653.0,"sers":4.3},{"mode":"1080 cm⁻¹","wl":664.5,"sers":5.7},{"mode":"1080 cm⁻¹","wl":676.0,"sers":6.5},{"mode":"1080 cm⁻¹","wl":687.5,"sers":10.0},{"mode":"1080 cm⁻¹","wl":699.1,"sers":13.0},{"mode":"1080 cm⁻¹","wl":710.6,"sers":14.3},{"mode":"1080 cm⁻¹","wl":722.3,"sers":15.7},{"mode":"1080 cm⁻¹","wl":733.9,"sers":10.3},{"mode":"1080 cm⁻¹","wl":745.5,"sers":8.4},{"mode":"1080 cm⁻¹","wl":757.2,"sers":4.8}
              ]},
              "mark": {"type": "point", "filled": true, "size": 130, "opacity": 1},
              "encoding": {
                "x": {"field": "wl", "type": "quantitative"},
                "y": {"field": "sers", "type": "quantitative"},
                "color": {"field": "mode", "type": "nominal",
                          "scale": {"domain": ["1585 cm⁻¹", "1256 cm⁻¹", "1080 cm⁻¹"], "range": ["#ff0000", "#0000ff", "#00ee00"]},
                          "legend": {"orient": "none", "legendX": 25, "legendY": 12, "title": null, "labelFont": "Liberation Sans", "labelFontSize": 24, "labelColor": "#000000", "symbolSize": 140, "symbolType": "circle", "symbolStrokeWidth": 0, "rowPadding": 16, "labelOffset": 12, "padding": 0}}
              }
            }
          ]
        }
      ]
    },
    {
      "width": 348, "height": 265,
      "resolve": {"scale": {"y": "independent"}},
      "layer": [
        {
          "layer": [
            {
              "data": {"values": [
{"wl":546.0,"scat":0.126},{"wl":550.5,"scat":0.12},{"wl":555.0,"scat":0.116},{"wl":561.7,"scat":0.112},{"wl":566.0,"scat":0.118},{"wl":570.7,"scat":0.126},{"wl":574.0,"scat":0.122},{"wl":577.4,"scat":0.122},{"wl":581.0,"scat":0.126},{"wl":584.2,"scat":0.122},{"wl":588.5,"scat":0.115},{"wl":593.2,"scat":0.105},{"wl":602.2,"scat":0.085},{"wl":611.2,"scat":0.071},{"wl":620.2,"scat":0.05},{"wl":629.2,"scat":0.043},{"wl":638.2,"scat":0.05},{"wl":647.2,"scat":0.071},{"wl":656.2,"scat":0.112},{"wl":665.2,"scat":0.168},{"wl":671.9,"scat":0.231},{"wl":677.5,"scat":0.315},{"wl":682.1,"scat":0.399},{"wl":685.4,"scat":0.483},{"wl":689.9,"scat":0.599},{"wl":694.4,"scat":0.725},{"wl":698.9,"scat":0.851},{"wl":702.2,"scat":0.928},{"wl":706.8,"scat":0.991},{"wl":709.0,"scat":0.998},{"wl":713.5,"scat":0.977},{"wl":719.2,"scat":0.922},{"wl":725.9,"scat":0.845},{"wl":732.6,"scat":0.768},{"wl":737.2,"scat":0.69},{"wl":740.5,"scat":0.61},{"wl":743.8,"scat":0.53},{"wl":747.5,"scat":0.48},{"wl":750.6,"scat":0.45},{"wl":755.0,"scat":0.418},{"wl":759.5,"scat":0.39},{"wl":764.5,"scat":0.362},{"wl":769.7,"scat":0.331}
              ]},
              "mark": {"type": "line", "color": "#000000", "strokeWidth": 4, "interpolate": "monotone"},
              "encoding": {
                "x": {"field": "wl", "type": "quantitative", "scale": {"domain": [542, 773], "nice": false, "zero": false},
                      "axis": {"values": [550, 600, 650, 700, 750], "title": "Wavelength (nm)", "labelPadding": 21, "titlePadding": 7, "format": "d"}},
                "y": {"field": "scat", "type": "quantitative", "scale": {"domain": [0, 1.095], "nice": false, "zero": false},
                      "axis": {"orient": "left", "values": [0, 0.5, 1], "format": ".1f", "title": null}}
              }
            },
            {
              "data": {"values": [{"wl": 705.6, "low": 0, "top": 0.975}]},
              "mark": {"type": "rule", "color": "#000000", "strokeWidth": 2, "strokeDash": [8, 4]},
              "encoding": {"x": {"field": "wl", "type": "quantitative"}, "y": {"field": "low", "type": "quantitative"}, "y2": {"field": "top"}}
            },
            {"data": {"values": [{}]}, "mark": {"type": "text", "text": "(c)", "font": "Liberation Sans", "fontWeight": "bold", "fontSize": 25, "align": "left", "baseline": "middle", "color": "#000000"}, "encoding": {"x": {"datum": 478.3}, "y": {"datum": 0.008}}}
          ]
        },
        {
          "layer": [
            {
              "data": {"values": [
{"wl":546.0,"E":63},{"wl":549.5,"E":77},{"wl":552.8,"E":91},{"wl":557.0,"E":107},{"wl":561.7,"E":123},{"wl":566.0,"E":140},{"wl":570.7,"E":158},{"wl":575.0,"E":174},{"wl":579.7,"E":189},{"wl":584.0,"E":202},{"wl":588.7,"E":210},{"wl":591.5,"E":213},{"wl":594.3,"E":214},{"wl":598.0,"E":209},{"wl":602.2,"E":203},{"wl":606.5,"E":198},{"wl":611.2,"E":193},{"wl":615.5,"E":189},{"wl":620.2,"E":186},{"wl":624.5,"E":187},{"wl":629.2,"E":189},{"wl":633.5,"E":192},{"wl":638.2,"E":196},{"wl":641.5,"E":201},{"wl":645.0,"E":207},{"wl":648.5,"E":215},{"wl":651.7,"E":224},{"wl":655.0,"E":233},{"wl":658.4,"E":242},{"wl":662.0,"E":252},{"wl":665.5,"E":266},{"wl":669.6,"E":284},{"wl":674.0,"E":300},{"wl":678.7,"E":319},{"wl":683.0,"E":339},{"wl":687.6,"E":361},{"wl":691.0,"E":380},{"wl":694.4,"E":396},{"wl":697.8,"E":411},{"wl":701.2,"E":424},{"wl":705.6,"E":434},{"wl":710.1,"E":427},{"wl":713.5,"E":416},{"wl":717.0,"E":403},{"wl":720.3,"E":389},{"wl":723.6,"E":375},{"wl":727.0,"E":358},{"wl":730.4,"E":340},{"wl":733.8,"E":320},{"wl":737.2,"E":298},{"wl":740.5,"E":280},{"wl":743.9,"E":263},{"wl":748.5,"E":247},{"wl":752.9,"E":235},{"wl":756.3,"E":222},{"wl":759.6,"E":212},{"wl":763.0,"E":205},{"wl":766.4,"E":201},{"wl":769.5,"E":200}
              ]},
              "mark": {"type": "line", "color": "#ff0000", "strokeWidth": 4, "interpolate": "monotone"},
              "encoding": {
                "x": {"field": "wl", "type": "quantitative"},
                "y": {"field": "E", "type": "quantitative", "scale": {"domain": [0, 547.7], "nice": false, "zero": false},
                      "axis": {"orient": "right", "values": [0, 200, 400], "title": "|E|ₘₐₓ", "titleColor": "#ff2020", "labelPadding": 15, "titlePadding": 8}}
              }
            },
            {
              "data": {"values": [{"wl": 700.0, "low": 0, "top": 420}]},
              "mark": {"type": "rule", "color": "#e85050", "strokeWidth": 2, "strokeDash": [8, 4]},
              "encoding": {"x": {"field": "wl", "type": "quantitative"}, "y": {"field": "low", "type": "quantitative"}, "y2": {"field": "top"}}
            }
          ]
        }
      ]
    }
  ]
}
]
}
